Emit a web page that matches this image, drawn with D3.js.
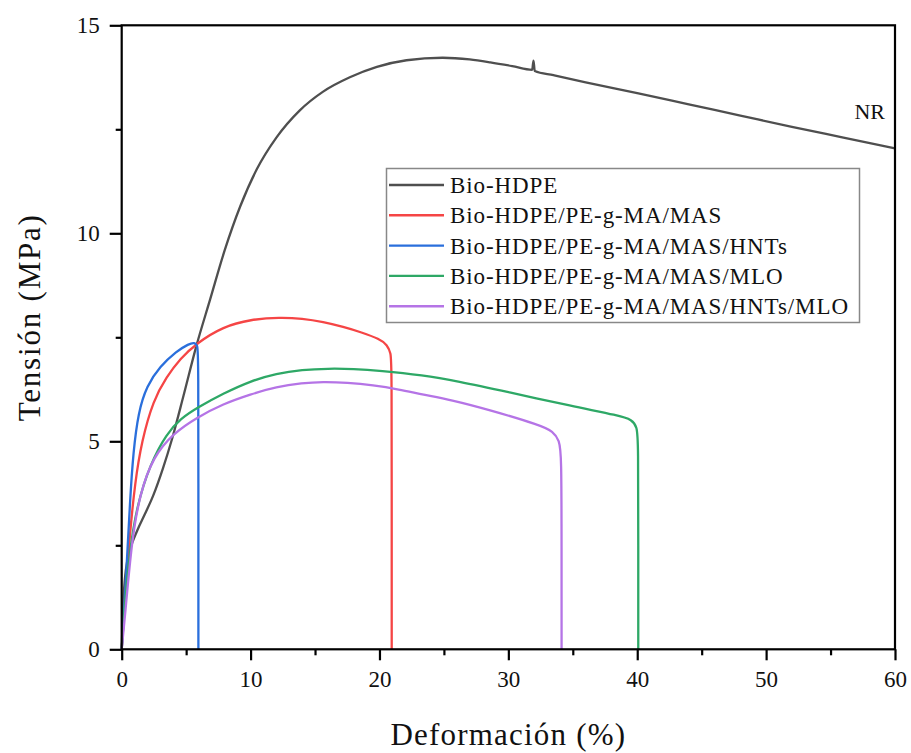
<!DOCTYPE html>
<html>
<head>
<meta charset="utf-8">
<script src="https://cdn.jsdelivr.net/npm/d3@7/dist/d3.min.js"></script>
<style>
  html, body { margin: 0; padding: 0; background: #fff; }
  svg { display: block; }
  text { font-family: "Liberation Serif", "Times New Roman", serif; fill: #111; }
</style>
</head>
<body>
<svg id="chart" width="911" height="753"></svg>
<script>
// Tensile curves: strain (%) vs. stress (MPa)
const seriesNames = [
  "Bio-HDPE",
  "Bio-HDPE/PE-g-MA/MAS",
  "Bio-HDPE/PE-g-MA/MAS/HNTs",
  "Bio-HDPE/PE-g-MA/MAS/MLO",
  "Bio-HDPE/PE-g-MA/MAS/HNTs/MLO"
];

const bioHdpe = [
  [0,0],[0.1,1.0],[0.25,1.7],[0.45,2.15],[0.7,2.45],[1.2,2.85],[1.8,3.25],[2.45,3.7],
  [3.2,4.35],[3.9,5.05],[4.8,6.1],[5.8,7.3],[6.85,8.4],[8.0,9.6],[9.2,10.65],
  [10.5,11.55],[12.0,12.3],[13.8,12.95],[15.6,13.4],[17.7,13.75],[19.8,14.0],
  [22.1,14.16],[24.9,14.22],[27.0,14.18],[28.6,14.11],[30.3,14.02],[31.85,13.93],
  [31.95,14.15],[32.05,13.9],[33.5,13.8],[36,13.63],[40,13.37],[44,13.1],
  [48,12.83],[52,12.56],[56,12.3],[60,12.04]
];

const bioHdpeMas = [
  [0,0],[0.26,1.25],[0.64,2.8],[1.03,4.0],[1.55,5.0],[2.45,5.99],[3.49,6.55],
  [4.52,6.98],[5.82,7.36],[7.88,7.76],[10,7.93],[12.3,7.98],[14,7.95],[15.64,7.87],
  [17.2,7.75],[18.6,7.62],[20.0,7.46],[20.6,7.32],[20.88,7.12],[20.95,6.85],
  [20.95,3],[20.95,0]
];

const bioHdpeMasHnts = [
  [0,0],[0.39,2.0],[0.64,3.55],[0.9,4.75],[1.29,5.7],[1.94,6.33],[2.97,6.8],
  [4.27,7.17],[5.2,7.34],[5.65,7.38],[5.88,7.3],[5.95,7.1],[5.95,3],[5.95,0]
];

const bioHdpeMasMlo = [
  [0,0],[0.26,1.19],[0.64,2.39],[1.16,3.43],[2.2,4.45],[3.49,5.19],[4.6,5.55],
  [5.82,5.8],[7.88,6.15],[10,6.45],[12,6.63],[14,6.72],[16,6.75],[18,6.74],
  [20,6.7],[23.4,6.59],[26,6.45],[29.9,6.19],[35,5.84],[38.6,5.62],[39.6,5.52],
  [39.98,5.35],[40.08,5.0],[40.08,2.5],[40.08,0]
];

const bioHdpeMasHntsMlo = [
  [0,0],[0.26,0.8],[0.78,2.63],[1.42,3.75],[2.45,4.63],[4.0,5.19],[5.82,5.57],
  [7.88,5.9],[10,6.13],[12,6.31],[14,6.4],[15.6,6.43],[17.5,6.41],[19.5,6.35],
  [21.5,6.25],[23.4,6.12],[25.5,6.0],[28.6,5.75],[32.45,5.39],[33.48,5.24],
  [33.95,5.02],[34.12,4.7],[34.13,2.5],[34.13,0]
];

const seriesData = [bioHdpe, bioHdpeMas, bioHdpeMasHnts, bioHdpeMasMlo, bioHdpeMasHntsMlo];
const seriesColors = ["#4f4f4f", "#f54545", "#2a6fdc", "#2ea866", "#b574e6"];
// The neat specimen keeps its yield spike; the others end in a vertical break
const seriesCurves = [d3.curveMonotoneX, d3.curveBasis, d3.curveBasis, d3.curveBasis, d3.curveBasis];

const xMajorTicks = [0, 10, 20, 30, 40, 50, 60];
const xMinorTicks = [5, 15, 25, 35, 45, 55];
const yMajorTicks = [0, 5, 10, 15];
const yMinorTicks = [2.5, 7.5, 12.5];

const xTitle = "Deformación (%)";
const yTitle = "Tensión (MPa)";
const noteLabel = "NR";

// Layout
const plot = { left: 121.7, right: 895, top: 25.3, bottom: 649.3 };
const svg = d3.select("#chart");

const x = d3.scaleLinear().domain([0, 60]).range([plot.left, plot.right]);
const y = d3.scaleLinear().domain([0, 15]).range([plot.bottom, plot.top]);

// Curves
svg.append("g").selectAll("path")
  .data(seriesData)
  .join("path")
  .attr("d", (d, i) => d3.line()
    .x(p => x(p[0]))
    .y(p => y(p[1]))
    .curve(seriesCurves[i])(d))
  .attr("fill", "none")
  .attr("stroke", (d, i) => seriesColors[i])
  .attr("stroke-width", 2.3)
  .attr("stroke-linejoin", "round");

// Axes
function styleAxis(g) {
  g.select(".domain").remove();
  g.selectAll("line").attr("stroke", "#000").attr("stroke-width", 2.2);
  g.selectAll("text").attr("font-size", 23).attr("fill", "#111")
    .attr("font-family", "\"Liberation Serif\", \"Times New Roman\", serif");
}

svg.append("g")
  .attr("transform", `translate(0,${plot.bottom})`)
  .call(d3.axisBottom(x).tickValues(xMinorTicks).tickSize(6).tickFormat(""))
  .call(styleAxis);
svg.append("g")
  .attr("transform", `translate(0,${plot.bottom})`)
  .call(d3.axisBottom(x).tickValues(xMajorTicks).tickSize(11).tickPadding(10).tickFormat(d3.format("d")))
  .call(styleAxis);

svg.append("g")
  .attr("transform", `translate(${plot.left},0)`)
  .call(d3.axisLeft(y).tickValues(yMinorTicks).tickSize(6).tickFormat(""))
  .call(styleAxis);
svg.append("g")
  .attr("transform", `translate(${plot.left},0)`)
  .call(d3.axisLeft(y).tickValues(yMajorTicks).tickSize(12).tickPadding(10).tickFormat(d3.format("d")))
  .call(styleAxis);

// Frame
svg.append("rect")
  .attr("x", plot.left).attr("y", plot.top)
  .attr("width", plot.right - plot.left).attr("height", plot.bottom - plot.top)
  .attr("fill", "none").attr("stroke", "#000").attr("stroke-width", 2.2);

// Axis titles
svg.append("text")
  .attr("x", (plot.left + plot.right) / 2)
  .attr("y", 745)
  .attr("text-anchor", "middle")
  .attr("font-size", 31)
  .attr("letter-spacing", 1.2)
  .text(xTitle);

svg.append("text")
  .attr("transform", `translate(40,${(plot.top + plot.bottom) / 2 - 20}) rotate(-90)`)
  .attr("text-anchor", "middle")
  .attr("font-size", 31)
  .attr("letter-spacing", 1.8)
  .text(yTitle);

// Annotation for the unbroken specimen
svg.append("text")
  .attr("x", 885)
  .attr("y", 119)
  .attr("text-anchor", "end")
  .attr("font-size", 22)
  .text(noteLabel);

// Legend
const legend = svg.append("g");
legend.append("rect")
  .attr("x", 386.5).attr("y", 168.5)
  .attr("width", 473).attr("height", 154)
  .attr("fill", "#fff").attr("stroke", "#888").attr("stroke-width", 1.5);

const rows = legend.selectAll("g.row")
  .data(seriesNames)
  .join("g")
  .attr("class", "row")
  .attr("transform", (d, i) => `translate(0,${185 + i * 30.3})`);

rows.append("line")
  .attr("x1", 389).attr("x2", 444)
  .attr("stroke", (d, i) => seriesColors[i])
  .attr("stroke-width", 2.4);

rows.append("text")
  .attr("x", 450)
  .attr("dy", "0.35em")
  .attr("font-size", 23)
  .attr("letter-spacing", 0.9)
  .text(d => d);
</script>
</body>
</html>
